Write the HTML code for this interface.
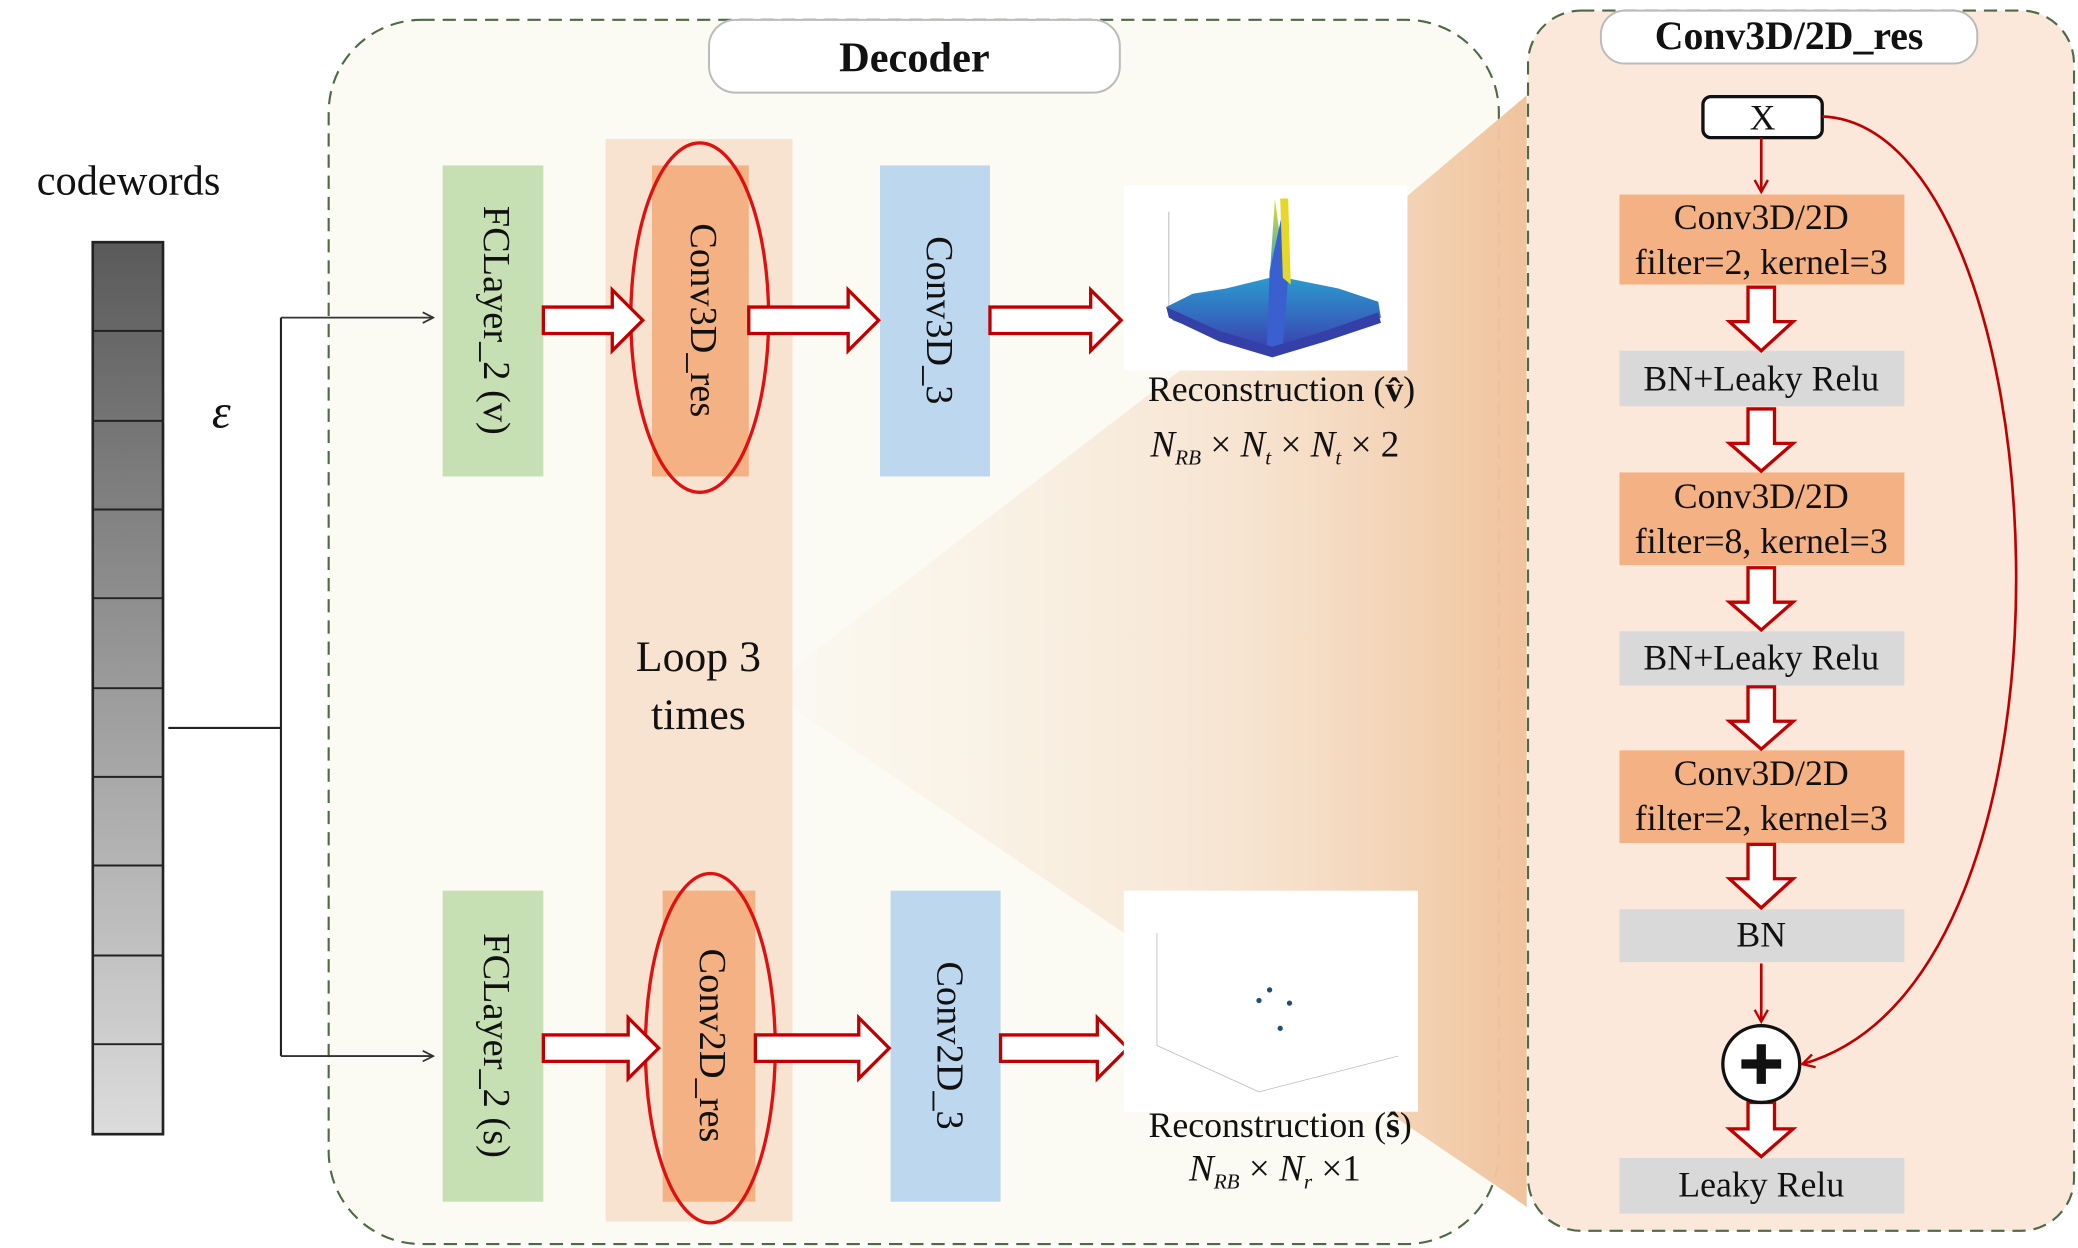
<!DOCTYPE html>
<html><head><meta charset="utf-8"><style>
html,body{margin:0;padding:0;background:#fff;}
svg{display:block;}
text{font-family:"Liberation Serif",serif;}
</style></head><body>
<svg width="2078" height="1248" viewBox="0 0 1568 943" preserveAspectRatio="none" xmlns="http://www.w3.org/2000/svg">
<defs>
<linearGradient id="bar" x1="0" y1="0" x2="0" y2="1">
<stop offset="0" stop-color="#5a5a5a"/><stop offset="1" stop-color="#dcdcdc"/></linearGradient>
<linearGradient id="wedge" x1="0" y1="0" x2="1" y2="0">
<stop offset="0" stop-color="#f7e3d2" stop-opacity="0.1"/><stop offset="0.6" stop-color="#f4d6bc" stop-opacity="0.6"/><stop offset="1" stop-color="#f0c39c"/></linearGradient>
<linearGradient id="surf" x1="0" y1="1" x2="0" y2="0">
<stop offset="0" stop-color="#3b3fb0"/><stop offset="0.5" stop-color="#2a9fd0"/><stop offset="1" stop-color="#e0e030"/></linearGradient>
<marker id="ah" markerWidth="10" markerHeight="10" refX="9" refY="5" orient="auto" markerUnits="userSpaceOnUse">
<path d="M1,1 L9,5 L1,9" fill="none" stroke="#333" stroke-width="1.3"/></marker>
<marker id="rh" markerWidth="12" markerHeight="12" refX="10" refY="6" orient="auto" markerUnits="userSpaceOnUse">
<path d="M1,1 L10,6 L1,11" fill="none" stroke="#c00000" stroke-width="1.8"/></marker>
</defs>

<!-- codewords -->
<text x="97" y="147" font-size="32" text-anchor="middle" fill="#111">codewords</text>
<rect x="70" y="183" width="53" height="674" fill="url(#bar)" stroke="#222" stroke-width="2"/>
<g stroke="#222" stroke-width="1.5">
<line x1="70" y1="250" x2="123" y2="250"/><line x1="70" y1="318" x2="123" y2="318"/>
<line x1="70" y1="385" x2="123" y2="385"/><line x1="70" y1="452" x2="123" y2="452"/>
<line x1="70" y1="520" x2="123" y2="520"/><line x1="70" y1="587" x2="123" y2="587"/>
<line x1="70" y1="654" x2="123" y2="654"/><line x1="70" y1="722" x2="123" y2="722"/>
<line x1="70" y1="789" x2="123" y2="789"/></g>
<text x="167" y="323" font-size="36" font-style="italic" text-anchor="middle" fill="#111">ε</text>

<!-- decoder box -->
<rect x="248" y="15" width="883" height="925" rx="70" fill="#fbfbf3" stroke="#4d6a45" stroke-width="1.6" stroke-dasharray="10,6"/>
<!-- wedge -->
<polygon points="598,505 1062,148 1152,72 1152,912 1135,900 598,535" fill="url(#wedge)"/>
<!-- right panel -->
<rect x="1153" y="8" width="412" height="922" rx="40" fill="#fbe8da" stroke="#4d6a45" stroke-width="1.6" stroke-dasharray="10,6"/>

<path d="M127,550 H212 M212,240 V798" stroke="#222" stroke-width="1.6" fill="none"/>
<path d="M212,240 H327" stroke="#333" stroke-width="1.4" fill="none" marker-end="url(#ah)"/>
<path d="M212,798 H327" stroke="#333" stroke-width="1.4" fill="none" marker-end="url(#ah)"/>

<rect x="535" y="15" width="310" height="55" rx="20" fill="#fff" stroke="#bbb" stroke-width="1.5"/>
<text x="690" y="54" font-size="32" font-weight="bold" text-anchor="middle" fill="#111">Decoder</text>

<rect x="457" y="105" width="141" height="818" fill="#f8e2d0"/>

<!-- top row -->
<rect x="334" y="125" width="76" height="235" fill="#c6e0b4"/>
<rect x="492" y="125" width="73" height="235" fill="#f4b183"/>
<rect x="664" y="125" width="83" height="235" fill="#bdd7ee"/>
<text transform="translate(372,242) rotate(90)" font-size="29" text-anchor="middle" dominant-baseline="middle" fill="#111">FCLayer_2 (v)</text>
<text transform="translate(528,242) rotate(90)" font-size="29" text-anchor="middle" dominant-baseline="middle" fill="#111">Conv3D_res</text>
<text transform="translate(706,242) rotate(90)" font-size="29" text-anchor="middle" dominant-baseline="middle" fill="#111">Conv3D_3</text>
<ellipse cx="528" cy="240" rx="52" ry="132" fill="none" stroke="#e01010" stroke-width="2.5"/>

<!-- bottom row -->
<rect x="334" y="673" width="76" height="235" fill="#c6e0b4"/>
<rect x="500" y="673" width="70" height="235" fill="#f4b183"/>
<rect x="672" y="673" width="83" height="235" fill="#bdd7ee"/>
<text transform="translate(372,790) rotate(90)" font-size="29" text-anchor="middle" dominant-baseline="middle" fill="#111">FCLayer_2 (s)</text>
<text transform="translate(535,790) rotate(90)" font-size="29" text-anchor="middle" dominant-baseline="middle" fill="#111">Conv2D_res</text>
<text transform="translate(714,790) rotate(90)" font-size="29" text-anchor="middle" dominant-baseline="middle" fill="#111">Conv2D_3</text>
<ellipse cx="536" cy="792" rx="49" ry="132" fill="none" stroke="#e01010" stroke-width="2.5"/>

<text x="527" y="507" font-size="33" text-anchor="middle" fill="#111">Loop 3</text>
<text x="527" y="551" font-size="33" text-anchor="middle" fill="#111">times</text>

<!-- hollow horizontal arrows -->
<g fill="#fff" stroke="#c00000" stroke-width="2.5" stroke-linejoin="miter">
<path d="M410,232 H462 V219 L485,242 L462,265 V252 H410 Z"/>
<path d="M565,232 H640 V219 L663,242 L640,265 V252 H565 Z"/>
<path d="M747,232 H823 V219 L846,242 L823,265 V252 H747 Z"/>
<path d="M410,782 H474 V769 L497,792 L474,815 V802 H410 Z"/>
<path d="M570,782 H648 V769 L671,792 L648,815 V802 H570 Z"/>
<path d="M755,782 H828 V769 L851,792 L828,815 V802 H755 Z"/>
</g>

<!-- plot top -->
<rect x="848" y="140" width="214" height="140" fill="#fff"/>
<g>
<line x1="882" y1="160" x2="882" y2="232" stroke="#999" stroke-width="0.5"/>
<polygon points="880,232 900,222 925,218 958,210 962,150 970,210 1010,218 1040,228 1042,240 1000,252 960,265 920,255 885,242" fill="url(#surf)"/>
<polygon points="956,262 958,205 970,150 972,210 968,262" fill="#3a60d0"/>
<polygon points="966,150 972,150 974,215 968,210" fill="#e5d828"/>
<polygon points="880,232 920,250 960,262 1000,250 1040,236 1042,244 1000,258 960,270 920,258 882,240" fill="#3440a8"/>
</g>
<!-- plot bottom -->
<rect x="848" y="673" width="222" height="167" fill="#fff"/>
<g stroke="#bbb" stroke-width="0.6" fill="none">
<line x1="873" y1="705" x2="873" y2="790"/><line x1="873" y1="790" x2="950" y2="825"/><line x1="950" y1="825" x2="1055" y2="798"/>
</g>
<g fill="#1f4e79"><circle cx="958" cy="748" r="2"/><circle cx="950" cy="756" r="2"/><circle cx="973" cy="758" r="2"/><circle cx="966" cy="777" r="2"/></g>

<text x="967" y="303" font-size="27" text-anchor="middle" fill="#111">Reconstruction (<tspan font-weight="bold">v̂</tspan>)</text>
<text x="962" y="345" font-size="28" font-style="italic" text-anchor="middle" fill="#111">N<tspan font-size="16" dy="6">RB</tspan><tspan dy="-6" font-style="normal"> × </tspan>N<tspan font-size="16" dy="6">t</tspan><tspan dy="-6" font-style="normal"> × </tspan>N<tspan font-size="16" dy="6">t</tspan><tspan dy="-6" font-style="normal"> × 2</tspan></text>
<text x="966" y="859" font-size="27" text-anchor="middle" fill="#111">Reconstruction (<tspan font-weight="bold">ŝ</tspan>)</text>
<text x="962" y="892" font-size="28" font-style="italic" text-anchor="middle" fill="#111">N<tspan font-size="16" dy="6">RB</tspan><tspan dy="-6" font-style="normal"> × </tspan>N<tspan font-size="16" dy="6">r</tspan><tspan dy="-6" font-style="normal"> ×1</tspan></text>

<!-- right panel content -->
<rect x="1208" y="8" width="284" height="40" rx="18" fill="#fff" stroke="#bbb" stroke-width="1.5"/>
<text x="1350" y="37" font-size="30" font-weight="bold" text-anchor="middle" fill="#111">Conv3D/2D_res</text>
<rect x="1285" y="73" width="90" height="31" rx="6" fill="#fff" stroke="#111" stroke-width="2.5"/>
<text x="1330" y="98" font-size="27" text-anchor="middle" fill="#111">X</text>
<path d="M1329,104 V145" stroke="#c00000" stroke-width="2" fill="none" marker-end="url(#rh)"/>

<rect x="1222" y="147" width="215" height="68" fill="#f4b183"/>
<rect x="1222" y="265" width="215" height="42" fill="#d9d9d9"/>
<rect x="1222" y="357" width="215" height="70" fill="#f4b183"/>
<rect x="1222" y="477" width="215" height="41" fill="#d9d9d9"/>
<rect x="1222" y="567" width="215" height="70" fill="#f4b183"/>
<rect x="1222" y="687" width="215" height="40" fill="#d9d9d9"/>
<rect x="1222" y="875" width="215" height="42" fill="#d9d9d9"/>
<g font-size="27" text-anchor="middle" fill="#111">
<text x="1329" y="173">Conv3D/2D</text><text x="1329" y="207">filter=2, kernel=3</text>
<text x="1329" y="295">BN+Leaky Relu</text>
<text x="1329" y="384">Conv3D/2D</text><text x="1329" y="418">filter=8, kernel=3</text>
<text x="1329" y="506">BN+Leaky Relu</text>
<text x="1329" y="593">Conv3D/2D</text><text x="1329" y="627">filter=2, kernel=3</text>
<text x="1329" y="715">BN</text>
<text x="1329" y="904">Leaky Relu</text>
</g>
<g fill="#fff" stroke="#c00000" stroke-width="2.5">
<path d="M1319,217 V243 H1305 L1329,265 L1353,243 H1339 V217 Z"/>
<path d="M1319,309 V335 H1305 L1329,356 L1353,335 H1339 V309 Z"/>
<path d="M1319,429 V455 H1305 L1329,476 L1353,455 H1339 V429 Z"/>
<path d="M1319,519 V545 H1305 L1329,566 L1353,545 H1339 V519 Z"/>
<path d="M1319,638 V664 H1305 L1329,686 L1353,664 H1339 V638 Z"/>
<path d="M1319,833 V853 H1305 L1329,874 L1353,853 H1339 V833 Z"/>
</g>
<path d="M1329,728 V772" stroke="#c00000" stroke-width="2" fill="none" marker-end="url(#rh)"/>
<circle cx="1329" cy="804" r="29" fill="#fff" stroke="#111" stroke-width="2.5"/>
<path d="M1314,804 H1344 M1329,789 V819" stroke="#111" stroke-width="7"/>
<path d="M1375,88 C1555,95 1590,740 1360,804" stroke="#c00000" stroke-width="2" fill="none" marker-end="url(#rh)"/>
</svg>
</body></html>
